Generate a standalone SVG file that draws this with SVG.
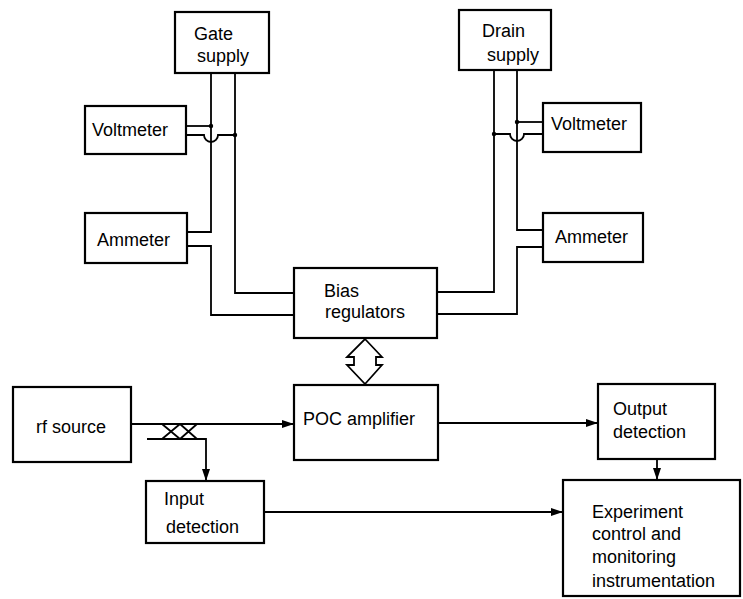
<svg xmlns="http://www.w3.org/2000/svg" width="743" height="599" viewBox="0 0 743 599">
<defs>
<style>
.box{fill:#fff;stroke:#000;stroke-width:2.2}
.ln{fill:none;stroke:#000;stroke-width:1.8}
text{font-family:"Liberation Sans",Arial,sans-serif;font-size:18px;fill:#000}
.dot{fill:#000}
</style>
<marker id="ah" viewBox="0 0 12 8" refX="12" refY="4" markerWidth="12" markerHeight="8" markerUnits="userSpaceOnUse" orient="auto">
<path d="M0,0 L12,4 L0,8 Z" fill="#000"/>
</marker>
</defs>
<rect width="743" height="599" fill="#fff"/>
<g id="connectors">
<!-- gate side -->
<path class="ln" d="M211,73 V232 H187"/>
<path class="ln" d="M187,246 H211 V315 H294"/>
<path class="ln" d="M235,73 V293 H294"/>
<path class="ln" d="M186,126 H211"/>
<path class="ln" d="M186,135 H204 A7,7 0 0 0 218,135 H235"/>
<circle class="dot" cx="211" cy="126" r="2.2"/>
<circle class="dot" cx="235" cy="135" r="2.2"/>
<!-- drain side -->
<path class="ln" d="M517,70 V230 H543"/>
<path class="ln" d="M543,247 H517 V314 H437"/>
<path class="ln" d="M494,70 V292 H437"/>
<path class="ln" d="M517,122 H543"/>
<path class="ln" d="M494,134 H510 A7,7 0 0 0 524,134 H543"/>
<circle class="dot" cx="517" cy="122" r="2.2"/>
<circle class="dot" cx="494" cy="134" r="2.2"/>
<!-- double arrow -->
<polygon points="365,339 382,357 376,357 376,365 382,365 365,384 347,365 354,365 354,357 347,357" fill="#fff" stroke="#000" stroke-width="1.8" stroke-linejoin="miter"/>
<!-- signal path -->
<path class="ln" d="M131,424 H294" marker-end="url(#ah)"/>
<path class="ln" d="M147,439 H206 V481" marker-end="url(#ah)"/>
<path class="ln" d="M162,424 L180,439 M162,439 L180,424 M180,424 L197,439 M180,439 L197,424"/>
<path class="ln" d="M438,423 H598" marker-end="url(#ah)"/>
<path class="ln" d="M657,459 V480" marker-end="url(#ah)"/>
<path class="ln" d="M264,512 H563" marker-end="url(#ah)"/>
</g>
<g id="gate-supply">
<rect class="box" x="175" y="12" width="94" height="61"/>
<text x="194" y="40">Gate</text>
<text x="197" y="62">supply</text>
</g>
<g id="drain-supply">
<rect class="box" x="459" y="10" width="92" height="60"/>
<text x="482" y="37">Drain</text>
<text x="487" y="61">supply</text>
</g>
<g id="voltmeter-left">
<rect class="box" x="85" y="106" width="101" height="48"/>
<text x="92" y="136">Voltmeter</text>
</g>
<g id="ammeter-left">
<rect class="box" x="85" y="213" width="102" height="50"/>
<text x="97" y="246">Ammeter</text>
</g>
<g id="voltmeter-right">
<rect class="box" x="543" y="103" width="98" height="49"/>
<text x="551" y="130">Voltmeter</text>
</g>
<g id="ammeter-right">
<rect class="box" x="543" y="213" width="100" height="49"/>
<text x="555" y="243">Ammeter</text>
</g>
<g id="bias-regulators">
<rect class="box" x="294" y="268" width="143" height="70"/>
<text x="324" y="297">Bias</text>
<text x="325" y="318">regulators</text>
</g>
<g id="poc-amplifier">
<rect class="box" x="294" y="385" width="144" height="75"/>
<text x="303" y="425">POC amplifier</text>
</g>
<g id="rf-source">
<rect class="box" x="13" y="387" width="118" height="75"/>
<text x="36" y="433">rf source</text>
</g>
<g id="input-detection">
<rect class="box" x="146" y="481" width="118" height="62"/>
<text x="164" y="505">Input</text>
<text x="166" y="533">detection</text>
</g>
<g id="output-detection">
<rect class="box" x="598" y="384" width="117" height="75"/>
<text x="613" y="415">Output</text>
<text x="613" y="438">detection</text>
</g>
<g id="experiment">
<rect class="box" x="563" y="480" width="177" height="116"/>
<text x="592" y="518">Experiment</text>
<text x="592" y="540">control and</text>
<text x="592" y="563">monitoring</text>
<text x="592" y="587">instrumentation</text>
</g>
</svg>
